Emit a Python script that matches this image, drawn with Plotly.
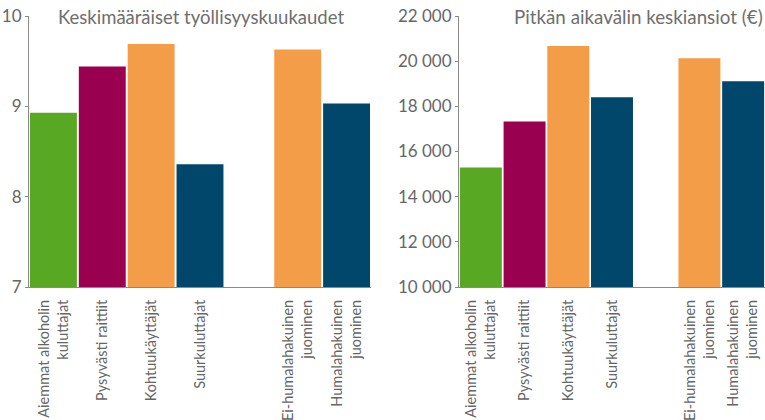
import plotly.graph_objects as go
from plotly.subplots import make_subplots

categories = [
    "Aiemmat alkoholin<br>kuluttajat",
    "Pysyvästi raittiit",
    "Kohtuukäyttäjät",
    "Suurkuluttajat",
    " ",
    "Ei-humalahakuinen<br>juominen",
    "Humalahakuinen<br>juominen",
]
employment_months = [8.93, 9.44, 9.69, 8.36, None, 9.63, 9.03]
long_term_income = [15290, 17330, 20670, 18400, None, 20130, 19110]
bar_colors = ["#58a823", "#99004f", "#f39d49", "#00476b", "#ffffff", "#f39d49", "#00476b"]

title_left = "Keskimääräiset työllisyyskuukaudet"
title_right = "Pitkän aikavälin keskiansiot (€)"

FONT = "Lato"
GRAY = "#666666"
AXIS = "#8a8a8a"

fig = make_subplots(rows=1, cols=2)
fig.add_trace(go.Bar(x=categories, y=employment_months, marker_color=bar_colors,
                     marker_line_width=0, hoverinfo="x+y"), row=1, col=1)
fig.add_trace(go.Bar(x=categories, y=long_term_income, marker_color=bar_colors,
                     marker_line_width=0, hoverinfo="x+y"), row=1, col=2)

W, H = 765, 420
top, bottom = 16, 287
fig.update_layout(
    width=W, height=H,
    margin=dict(l=0, r=0, t=top, b=H - bottom, pad=0, autoexpand=False),
    plot_bgcolor="white", paper_bgcolor="white",
    showlegend=False, bargap=0.04,
    separators=", ",
    font=dict(family=FONT, color=GRAY),
)
common_x = dict(type="category", tickangle=-90, showgrid=False, showline=True,
                automargin=False, ticklabelstandoff=6,
                linecolor=AXIS, linewidth=1, ticks="", tickfont=dict(size=14.5, color=GRAY,
                family=FONT))
common_y = dict(showgrid=False, showline=True, linecolor=AXIS, linewidth=1,
                automargin=False,
                ticks="outside", ticklen=3, tickcolor=AXIS, zeroline=False,
                tickfont=dict(size=17, color=GRAY, family=FONT))
fig.update_xaxes(domain=[29 / W, 371 / W], row=1, col=1, **common_x)
fig.update_xaxes(domain=[459 / W, 1.0], row=1, col=2, **common_x)
fig.update_yaxes(range=[7, 10], dtick=1, row=1, col=1, **common_y)
fig.update_yaxes(range=[10000, 22000], dtick=2000, tickformat=",d", row=1, col=2, **common_y)

ty = (bottom - 17) / (bottom - top)
fig.add_annotation(text=title_left, xref="paper", yref="paper", x=201 / W, y=ty,
                   xanchor="center", yanchor="middle", showarrow=False,
                   font=dict(size=18.5, color="#6e6e6e", family=FONT))
fig.add_annotation(text=title_right, xref="paper", yref="paper", x=1.0, y=ty,
                   xanchor="right", yanchor="middle", showarrow=False,
                   font=dict(size=18.8, color="#6e6e6e", family=FONT))

fig.write_html("out.html", config={"displayModeBar": False},
               post_script="document.body.style.margin='0';document.body.style.overflow='hidden';")
